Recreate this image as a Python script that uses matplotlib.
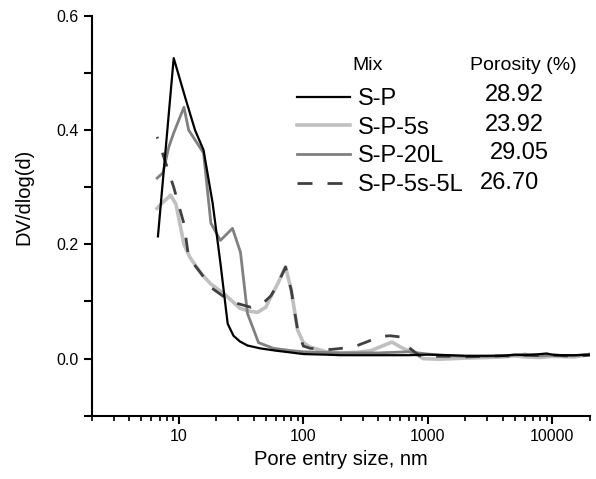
import matplotlib
matplotlib.use("Agg")
import matplotlib.pyplot as plt
from matplotlib.lines import Line2D
from matplotlib.ticker import LogLocator, NullFormatter, FixedLocator, MultipleLocator, FuncFormatter

plt.rcParams['font.family'] = ['Liberation Sans', 'DejaVu Sans']

# ---- data ----
sp_x = [6.8, 9.1, 11.4, 13.5, 15.8, 18.7, 21.6, 24.7, 27.5, 31, 35.6, 45, 60, 78, 100, 150,
        200, 300, 500, 700, 1000, 1500, 2000, 3000, 4000, 5000, 6000, 8000, 9000, 10000,
        12000, 15000, 20000]
sp_y = [0.214, 0.526, 0.453, 0.40, 0.365, 0.272, 0.167, 0.061, 0.040, 0.030, 0.023, 0.018,
        0.014, 0.011, 0.008, 0.007, 0.006, 0.006, 0.006, 0.006, 0.007, 0.006, 0.005, 0.005,
        0.005, 0.007, 0.006, 0.008, 0.009, 0.007, 0.006, 0.006, 0.007]

sp5s_x = [6.7, 7.5, 8.6, 9.5, 11, 12.3, 15, 18, 23, 31, 37, 43, 50, 54.5, 62, 72, 80, 90, 100,
          114, 165, 200, 270, 350, 430, 515, 620, 800, 920, 1240, 1600, 2000, 3000, 4000, 5000,
          6000, 8000, 10000, 15000, 20000]
sp5s_y = [0.263, 0.274, 0.286, 0.27, 0.20, 0.177, 0.15, 0.131, 0.114, 0.088, 0.083, 0.081,
          0.09, 0.107, 0.13, 0.161, 0.12, 0.05, 0.028, 0.02, 0.010, 0.010, 0.011, 0.014, 0.022,
          0.029, 0.019, 0.008, 0.0, -0.001, 0.0, 0.001, 0.002, 0.003, 0.005, 0.003, 0.002,
          0.004, 0.003, 0.007]

sp20l_x = [6.7, 7.45, 8.3, 9.1, 11.0, 12, 15.8, 18.1, 21.6, 27, 31.3, 35.6, 43.7, 57.6, 80, 100,
           200, 400, 700, 1000, 1500, 2000, 3000, 5000, 6000, 8000, 10000, 15000, 20000]
sp20l_y = [0.316, 0.325, 0.37, 0.395, 0.44, 0.40, 0.36, 0.237, 0.207, 0.228, 0.186, 0.079,
           0.028, 0.018, 0.014, 0.012, 0.010, 0.010, 0.012, 0.008, 0.005, 0.004, 0.004, 0.006,
           0.008, 0.005, 0.006, 0.005, 0.008]

sp5s5l_x = [6.7, 7.6, 9.1, 11, 12, 15, 18, 26, 37.7, 47, 55, 62, 72, 80, 90, 100, 114, 165, 250,
            330, 413, 500, 600, 700, 860, 1000, 1500, 2000, 3000, 4000, 5000, 6000, 8000, 9000,
            10000, 15000, 20000]
sp5s5l_y = [0.388, 0.352, 0.30, 0.236, 0.177, 0.15, 0.125, 0.10, 0.09, 0.096, 0.11, 0.13, 0.16,
            0.12, 0.05, 0.022, 0.018, 0.016, 0.020, 0.030, 0.039, 0.040, 0.038, 0.02, 0.005,
            0.004, 0.004, 0.003, 0.004, 0.005, 0.004, 0.006, 0.005, 0.008, 0.006, 0.004, 0.006]

mixes = ['S-P', 'S-P-5s', 'S-P-20L', 'S-P-5s-5L']
porosity = ['28.92', '23.92', '29.05', '26.70']

# ---- figure ----
fig = plt.figure(figsize=(5.96, 4.79), dpi=100)
ax = fig.add_axes([0.154, 0.132, 0.836, 0.835])

l2, = ax.plot(sp5s_x, sp5s_y, color='#c0c0c0', lw=2.6, solid_joinstyle='round')
l3, = ax.plot(sp20l_x, sp20l_y, color='#808080', lw=2.0, solid_joinstyle='round')
l4, = ax.plot(sp5s5l_x, sp5s5l_y, color='#404040', lw=2.0, linestyle=(4.6, (5.2, 5.4)))
l1, = ax.plot(sp_x, sp_y, color='black', lw=1.6, solid_joinstyle='round')
l4_proxy = Line2D([], [], color='#404040', lw=2.0, dashes=(5.4, 5.4))

ax.set_xscale('log')
ax.set_xlim(2, 20100)
ax.set_ylim(-0.1, 0.6)

ax.xaxis.set_major_locator(FixedLocator([10, 100, 1000, 10000]))
ax.xaxis.set_major_formatter(FuncFormatter(lambda v, p: f"{int(round(v))}"))
ax.xaxis.set_minor_locator(LogLocator(base=10, subs=range(2, 10), numticks=20))
ax.xaxis.set_minor_formatter(NullFormatter())
ax.set_yticks([0.0, 0.2, 0.4, 0.6])
ax.set_yticklabels(['0.0', '0.2', '0.4', '0.6'])
ax.yaxis.set_minor_locator(MultipleLocator(0.1))

for s in ['top', 'right']:
    ax.spines[s].set_visible(False)
for s in ['left', 'bottom']:
    ax.spines[s].set_linewidth(1.5)

ax.tick_params(axis='both', which='major', direction='out', length=6, width=1.5, labelsize=11.5)
ax.tick_params(axis='x', which='minor', direction='out', length=3.5, width=1.2)
ax.tick_params(axis='y', which='minor', direction='out', length=6, width=1.5)

ax.set_xlabel('Pore entry size, nm', fontsize=14.5)
ax.set_ylabel('DV/dlog(d)', fontsize=14.5)
ax.yaxis.set_label_coords(-0.118, 0.548)

leg = ax.legend([l1, l2, l3, l4_proxy], mixes, loc='upper left', bbox_to_anchor=(0.393, 0.843),
                frameon=False, fontsize=17, handlelength=2.25, handletextpad=0.34,
                labelspacing=0.28, borderaxespad=0)

ax.text(0.554, 0.877, 'Mix', transform=ax.transAxes, ha='center', va='center', fontsize=14)
ax.text(0.867, 0.877, 'Porosity (%)', transform=ax.transAxes, ha='center', va='center', fontsize=14)
row_y = [0.8025, 0.7275, 0.6575, 0.5825]
row_x = [0.849, 0.849, 0.859, 0.838]
for p, xx, yy in zip(porosity, row_x, row_y):
    ax.text(xx, yy, p, transform=ax.transAxes, ha='center', va='center', fontsize=17)

fig.savefig('out.png', dpi=100)
